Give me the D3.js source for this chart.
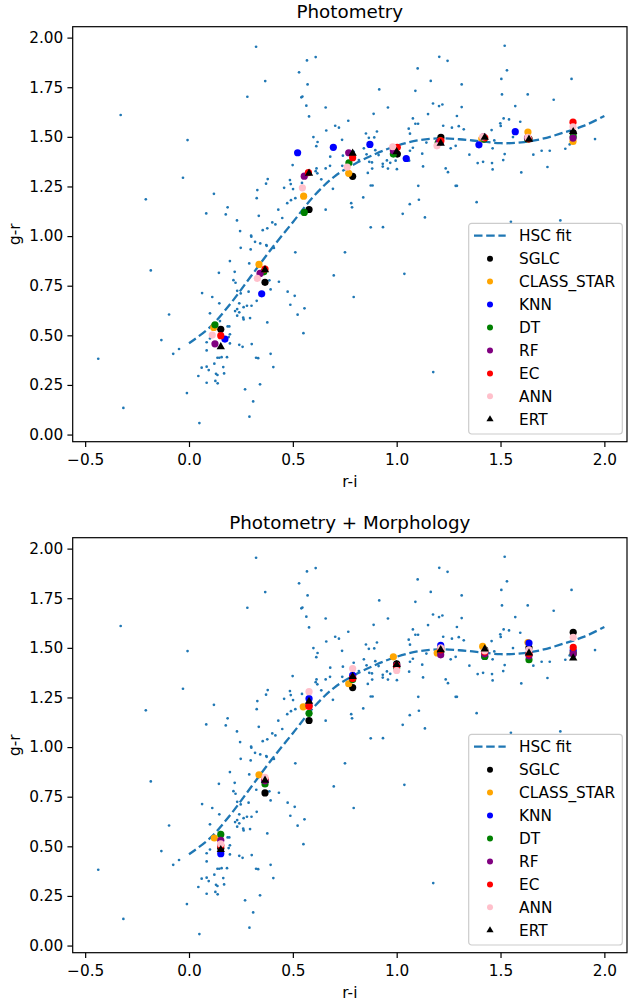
<!DOCTYPE html>
<html>
<head>
<meta charset="utf-8">
<script src="https://cdn.jsdelivr.net/npm/d3@7"></script>
<style>
  body { margin: 0; background: #fff; }
  svg { display: block; font-family: "DejaVu Sans", sans-serif; }
</style>
</head>
<body>
<svg id="chart" width="629" height="1005"></svg>
<script>
// background stars: [r-i, g-r]
const stars = [
  [-0.329,1.610],[0.323,1.954],[0.367,1.781],[0.281,1.702],[-0.007,1.484],[-0.029,1.294],[-0.208,1.185],[0.120,1.213],
  [0.083,1.114],[0.186,1.145],[0.177,1.109],[0.231,1.079],[0.246,1.025],[0.300,0.997],[0.318,0.971],[0.336,1.102],
  [0.326,1.191],[0.329,1.232],[0.371,1.264],[0.379,1.287],[0.355,1.030],[0.377,1.039],[0.401,1.069],[0.416,1.059],
  [0.430,1.133],[0.449,1.091],[0.473,1.166],[0.458,1.243],[0.486,1.282],[0.490,1.262],[0.501,1.237],[0.491,1.181],
  [0.512,1.191],[0.499,1.358],[0.544,1.268],[0.530,1.825],[0.568,1.885],[0.610,1.902],[0.571,1.764],[0.541,1.699],
  [0.546,1.703],[0.565,1.657],[0.578,1.603],[0.599,1.499],[0.619,1.474],[0.613,1.453],[0.614,1.341],[0.610,1.327],
  [0.372,0.955],
  [-0.437,0.382],[-0.316,0.134],[-0.184,0.827],[-0.096,0.605],[-0.133,0.476],[-0.076,0.407],[-0.048,0.431],[-0.010,0.209],
  [0.050,0.058],[0.063,0.713],[0.112,0.693],[0.101,0.611],[0.144,0.815],[0.146,0.661],[0.197,0.874],[0.220,0.820],
  [0.214,0.778],[0.224,0.765],[0.232,0.724],[0.249,0.711],[0.242,0.661],[0.232,0.632],[0.222,0.622],[0.242,0.616],
  [0.232,0.599],[0.261,0.589],[0.263,0.580],[0.294,0.587],[0.299,1.002],[0.343,0.963],[0.374,0.951],[0.409,0.940],
  [0.297,0.933],[0.249,0.941],[0.290,0.862],[0.324,0.785],[0.287,0.720],[0.326,0.674],[0.279,0.649],[0.301,0.649],
  [0.263,0.642],[0.387,0.777],[0.393,0.731],[0.433,0.770],[0.475,0.720],[0.509,0.699],[0.488,0.654],[0.512,0.918],
  [0.523,0.604],[0.556,0.636],[0.551,0.511],[0.377,0.565],[0.393,0.407],[0.406,0.340],[0.323,0.387],[0.333,0.385],
  [0.302,0.456],[0.242,0.452],[0.258,0.442],[0.270,0.228],[0.309,0.167],[0.291,0.090],[0.342,0.253],[0.085,0.424],
  [0.061,0.337],[0.085,0.342],[0.095,0.325],[0.122,0.357],[0.130,0.306],[0.137,0.300],[0.138,0.258],[0.127,0.270],
  [0.045,0.295],[0.085,0.261],[0.137,0.387],[0.146,0.387],[0.157,0.390],[0.165,0.340],[0.169,0.308],[0.183,0.390],
  [0.197,0.459],[0.191,0.491],[0.197,0.505],[0.101,0.484],[0.085,0.465],[0.149,0.572],[0.186,0.545],[0.194,0.545],
  [0.658,1.648],[0.916,1.739],[1.101,1.845],[1.205,1.903],[1.245,1.883],[1.520,1.959],[1.531,1.835],[1.504,1.792],
  [1.164,1.782],[1.313,1.764],[1.090,1.732],[1.842,1.792],[1.507,1.714],[1.631,1.714],[1.756,1.687],[1.175,1.668],
  [1.204,1.655],[1.220,1.663],[1.313,1.650],[1.571,1.655],[0.958,1.648],[0.889,1.616],[1.151,1.615],[1.290,1.605],
  [1.078,1.593],[1.515,1.593],[1.541,1.588],[1.595,1.576],[1.499,1.568],[1.501,1.555],[1.090,1.566],[1.103,1.566],
  [0.767,1.581],[0.704,1.556],[0.722,1.546],[0.661,1.532],[1.224,1.556],[1.266,1.546],[1.299,1.554],[1.323,1.538],
  [1.058,1.541],[1.064,1.516],[0.905,1.527],[0.852,1.517],[0.892,1.497],[0.866,1.495],[0.737,1.485],[1.457,1.534],
  [1.470,1.482],[1.462,1.442],[1.560,1.499],[1.737,1.430],[1.698,1.430],[1.658,1.410],[1.955,1.489],[1.812,1.440],
  [1.833,1.462],[1.726,1.348],[1.600,1.321],[1.520,1.413],[1.513,1.383],[1.459,1.368],[1.462,1.336],[1.416,1.374],
  [1.390,1.368],[1.350,1.410],[1.385,1.171],[1.290,1.253],[1.284,1.253],[1.247,1.322],[1.236,1.341],[1.260,1.442],
  [1.284,1.455],[1.127,1.351],[1.123,1.415],[1.078,1.445],[1.143,1.471],[1.104,1.253],[1.107,1.183],[1.063,1.161],
  [1.029,1.112],[1.136,1.094],[1.001,1.337],[0.969,1.369],[0.953,1.381],[0.933,1.364],[0.913,1.408],[0.897,1.433],
  [0.881,1.371],[0.868,1.374],[0.855,1.412],[0.842,1.442],[0.818,1.383],[0.793,1.425],[0.741,1.405],[0.738,1.354],
  [0.680,1.400],[0.679,1.354],[0.693,1.238],[0.658,1.341],[0.637,1.286],[0.618,1.316],[0.658,1.133],[0.781,1.166],
  [0.785,1.145],[0.839,1.195],[0.884,1.255],[0.875,1.255],[0.875,1.044],[0.934,1.045],[1.550,1.072],[1.788,1.079],
  [1.064,1.430],[1.060,1.380],[0.995,1.380],[0.958,1.340],[0.933,1.350],[0.882,1.340],[0.861,1.318],
  [0.751,0.918],[0.697,0.802],[1.037,0.810],[0.793,0.693],[1.176,0.315]
];

// HSC stellar locus fit
const fitRI = [0.0,0.1,0.2,0.3,0.4,0.5,0.6,0.7,0.8,0.9,1.0,1.1,1.2,1.3,1.4,1.5,1.6,1.7,1.8,1.9,2.0];
const fitGR = [0.46,0.54,0.66,0.80,0.94,1.07,1.20,1.30,1.365,1.415,1.455,1.482,1.492,1.488,1.478,1.468,1.472,1.49,1.52,1.555,1.605];

const classNames = ["SGLC","CLASS_STAR","KNN","DT","RF","EC","ANN","ERT"];
const classColors = ["black","orange","blue","green","purple","red","pink","black"];

// Photometry panel
const photSGLC  = [[0.153,0.530],[0.366,0.767],[0.578,1.134],[0.788,1.301],[1.003,1.413],[1.213,1.497],[1.42,1.49],[1.637,1.49],[1.85,1.52]];
const photCLASS = [[0.119,0.540],[0.337,0.857],[0.552,1.201],[0.769,1.316],[0.99,1.44],[1.21,1.48],[1.41,1.49],[1.632,1.524],[1.849,1.477]];
const photKNN   = [[0.173,0.481],[0.350,0.709],[0.523,1.420],[0.695,1.447],[0.871,1.462],[1.046,1.391],[1.21,1.475],[1.396,1.460],[1.571,1.526]];
const photDT    = [[0.125,0.553],[0.36,0.82],[0.555,1.119],[0.770,1.369],[0.984,1.413],[1.20,1.47],[1.42,1.49],[1.63,1.49],[1.85,1.50]];
const photRF    = [[0.125,0.457],[0.342,0.812],[0.555,1.302],[0.769,1.420],[0.984,1.430],[1.205,1.475],[1.418,1.500],[1.63,1.495],[1.849,1.494]];
const photEC    = [[0.153,0.498],[0.366,0.834],[0.575,1.32],[0.788,1.395],[1.003,1.447],[1.213,1.48],[1.424,1.495],[1.635,1.49],[1.849,1.574]];
const photANN   = [[0.112,0.501],[0.329,0.787],[0.546,1.243],[0.762,1.348],[0.981,1.450],[1.194,1.455],[1.414,1.500],[1.632,1.497],[1.849,1.551]];
const photERT   = [[0.153,0.442],[0.366,0.830],[0.578,1.316],[0.788,1.417],[1.0,1.425],[1.212,1.467],[1.424,1.497],[1.637,1.487],[1.850,1.526]];

// Photometry + Morphology panel
const morphSGLC  = [[0.153,0.49],[0.366,0.769],[0.578,1.134],[0.788,1.300],[1.0,1.42],[1.212,1.50],[1.424,1.49],[1.637,1.50],[1.850,1.578]];
const morphCLASS = [[0.122,0.542],[0.337,0.860],[0.550,1.203],[0.769,1.319],[0.984,1.455],[1.195,1.474],[1.414,1.507],[1.632,1.527],[1.85,1.48]];
const morphKNN   = [[0.153,0.463],[0.366,0.83],[0.578,1.244],[0.788,1.361],[1.0,1.41],[1.212,1.512],[1.424,1.457],[1.637,1.524],[1.850,1.486]];
const morphDT    = [[0.153,0.560],[0.366,0.814],[0.578,1.170],[0.788,1.34],[1.0,1.40],[1.212,1.48],[1.424,1.457],[1.637,1.440],[1.85,1.47]];
const morphRF    = [[0.153,0.530],[0.366,0.83],[0.578,1.21],[0.788,1.35],[1.0,1.41],[1.212,1.465],[1.424,1.47],[1.637,1.46],[1.85,1.47]];
const morphEC    = [[0.153,0.504],[0.366,0.839],[0.578,1.205],[0.788,1.345],[1.0,1.41],[1.212,1.49],[1.424,1.48],[1.637,1.47],[1.850,1.502]];
const morphANN   = [[0.153,0.512],[0.366,0.848],[0.578,1.279],[0.788,1.396],[1.0,1.386],[1.212,1.50],[1.424,1.485],[1.637,1.49],[1.850,1.553]];
const morphERT   = [[0.153,0.483],[0.366,0.832],[0.578,1.23],[0.788,1.355],[1.0,1.415],[1.212,1.490],[1.424,1.494],[1.637,1.474],[1.850,1.449]];

const xTicks = [-0.5, 0.0, 0.5, 1.0, 1.5, 2.0];
const yTicks = [0.00, 0.25, 0.50, 0.75, 1.00, 1.25, 1.50, 1.75, 2.00];

const svg = d3.select('#chart');
const blue = '#1f77b4';
const tickFont = 15.3;
const left = 72.7, right = 627;

const x = d3.scaleLinear().domain([-0.56, 2.109]).range([left, right]);

function drawPanel(top, bottom, title, sets) {
  const y = d3.scaleLinear().domain([-0.036, 2.055]).range([bottom, top]);
  const g = svg.append('g');

  // stars
  g.append('g').selectAll('circle').data(stars).enter().append('circle')
    .attr('cx', d => x(d[0])).attr('cy', d => y(d[1])).attr('r', 1.35)
    .attr('fill', blue);

  // fit line
  const line = d3.line().x(d => x(d[0])).y(d => y(d[1])).curve(d3.curveCatmullRom);
  g.append('path').datum(fitRI.map((v, i) => [v, fitGR[i]]))
    .attr('d', line).attr('fill', 'none').attr('stroke', blue)
    .attr('stroke-width', 2.3).attr('stroke-dasharray', '8.5,3.7');

  // classifiers
  sets.forEach((pts, i) => {
    const layer = g.append('g');
    if (classNames[i] === 'ERT') {
      layer.selectAll('path').data(pts).enter().append('path')
        .attr('d', d3.symbol(d3.symbolTriangle, 30))
        .attr('transform', d => `translate(${x(d[0])},${y(d[1])})`)
        .attr('fill', classColors[i]);
    } else {
      layer.selectAll('circle').data(pts).enter().append('circle')
        .attr('cx', d => x(d[0])).attr('cy', d => y(d[1])).attr('r', 3.6)
        .attr('fill', classColors[i]);
    }
  });

  // axes
  const xa = g.append('g').attr('transform', `translate(0,${bottom})`)
    .call(d3.axisBottom(x).tickValues(xTicks).tickFormat(d3.format('.1f')).tickSize(5.3).tickPadding(6.7));
  const ya = g.append('g').attr('transform', `translate(${left},0)`)
    .call(d3.axisLeft(y).tickValues(yTicks).tickFormat(d3.format('.2f')).tickSize(5.3).tickPadding(4.1));
  [xa, ya].forEach(a => {
    a.select('.domain').remove();
    a.selectAll('line').attr('stroke', 'black').attr('stroke-width', 1.2);
    a.selectAll('text').attr('font-size', tickFont).attr('fill', 'black')
      .attr('font-family', '"DejaVu Sans", sans-serif');
  });

  g.append('rect').attr('x', left).attr('y', top)
    .attr('width', right - left).attr('height', bottom - top)
    .attr('fill', 'none').attr('stroke', 'black').attr('stroke-width', 1.2);

  g.append('text').attr('x', (left + right) / 2).attr('y', top - 8.8)
    .attr('text-anchor', 'middle').attr('font-size', 18.3).text(title);
  g.append('text').attr('x', (left + right) / 2).attr('y', bottom + 45.5)
    .attr('text-anchor', 'middle').attr('font-size', tickFont).text('r-i');
  g.append('text').attr('transform', `translate(19.5,${(top + bottom) / 2}) rotate(-90)`)
    .attr('text-anchor', 'middle').attr('font-size', tickFont).text('g-r');

  // legend
  const lg = g.append('g').attr('transform', `translate(468.7,${bottom - 218.4})`);
  lg.append('rect').attr('width', 153.6).attr('height', 210.7).attr('rx', 3)
    .attr('fill', 'white').attr('fill-opacity', 0.8).attr('stroke', '#cccccc').attr('stroke-width', 1.2);
  const rowY = i => 12.4 + i * 22.95;
  lg.append('line').attr('x1', 5.3).attr('x2', 37).attr('y1', rowY(0)).attr('y2', rowY(0))
    .attr('stroke', blue).attr('stroke-width', 2.3).attr('stroke-dasharray', '8.5,3.7');
  lg.append('text').attr('x', 50.3).attr('y', rowY(0)).attr('dy', '0.36em')
    .attr('font-size', tickFont).text('HSC fit');
  classNames.forEach((name, i) => {
    const ry = rowY(i + 1);
    if (name === 'ERT') {
      lg.append('path').attr('d', d3.symbol(d3.symbolTriangle, 22))
        .attr('transform', `translate(21.3,${ry})`).attr('fill', classColors[i]);
    } else {
      lg.append('circle').attr('cx', 21.3).attr('cy', ry).attr('r', 3)
        .attr('fill', classColors[i]);
    }
    lg.append('text').attr('x', 50.3).attr('y', ry).attr('dy', '0.36em')
      .attr('font-size', tickFont).text(name);
  });
}

drawPanel(26.7, 441.7, 'Photometry',
  [photSGLC, photCLASS, photKNN, photDT, photRF, photEC, photANN, photERT]);
drawPanel(537.7, 952.7, 'Photometry + Morphology',
  [morphSGLC, morphCLASS, morphKNN, morphDT, morphRF, morphEC, morphANN, morphERT]);
</script>
</body>
</html>
